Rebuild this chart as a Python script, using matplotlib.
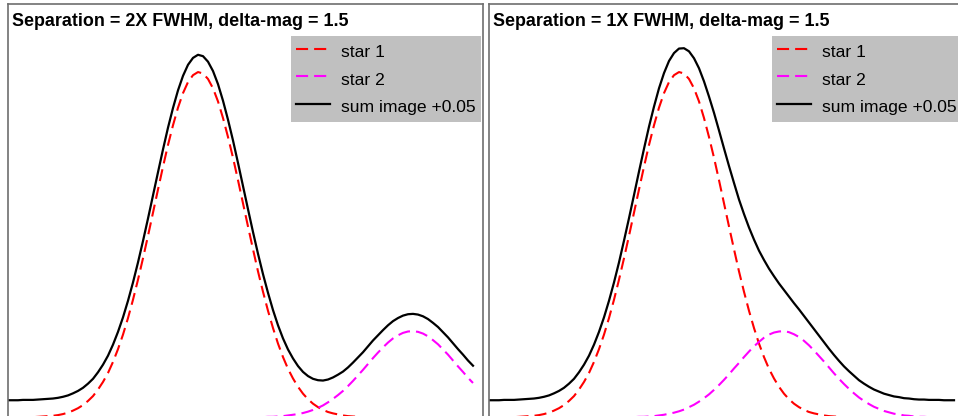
import matplotlib
matplotlib.use("Agg")
import matplotlib.pyplot as plt
import numpy as np

plt.rcParams['font.family'] = ['Liberation Sans', 'DejaVu Sans']

# position along the cut, half-unit steps (same grid for both panels)
pos = np.arange(94) * 0.5

# star 1: bright source, same in both panels
star1 = [0.000, 0.000, 0.000, 0.001, 0.001, 0.001, 0.002, 0.003, 0.004, 0.005,
         0.007, 0.010, 0.014, 0.020, 0.027, 0.036, 0.048, 0.062, 0.081, 0.103,
         0.129, 0.161, 0.198, 0.240, 0.288, 0.341, 0.399, 0.461, 0.526, 0.593,
         0.660, 0.726, 0.789, 0.846, 0.897, 0.939, 0.971, 0.991, 1.000, 0.996,
         0.980, 0.953, 0.915, 0.867, 0.812, 0.752, 0.687, 0.620, 0.553, 0.487,
         0.423, 0.364, 0.309, 0.259, 0.214, 0.175, 0.141, 0.113, 0.089, 0.069,
         0.053, 0.040, 0.030, 0.022, 0.016, 0.012, 0.009, 0.006, 0.004, 0.003,
         0.002, 0.001, 0.001, 0.001] + [0.000] * 20

# star 2 at 2x FWHM separation
star2_wide = [0.000] * 49 + [
    0.000, 0.001, 0.001, 0.002, 0.002, 0.003, 0.004, 0.006, 0.008, 0.010,
    0.013, 0.017, 0.022, 0.028, 0.035, 0.044, 0.054, 0.065, 0.077, 0.091,
    0.106, 0.122, 0.138, 0.155, 0.172, 0.188, 0.203, 0.217, 0.229, 0.238,
    0.245, 0.249, 0.250, 0.248, 0.243, 0.235, 0.224, 0.212, 0.197, 0.182,
    0.165, 0.148, 0.132, 0.115, 0.100]

# star 2 at 1x FWHM separation
star2_close = [0.000] * 25 + [
    0.000, 0.000, 0.001, 0.001, 0.001, 0.002, 0.002, 0.003, 0.004, 0.006,
    0.008, 0.011, 0.014, 0.018, 0.023, 0.030, 0.037, 0.046, 0.056, 0.067,
    0.080, 0.094, 0.109, 0.125, 0.142, 0.158, 0.175, 0.191, 0.206, 0.219,
    0.231, 0.240, 0.246, 0.249, 0.250, 0.247, 0.241, 0.233, 0.222, 0.209,
    0.194, 0.178, 0.162, 0.145, 0.128, 0.112, 0.097, 0.083, 0.070, 0.058,
    0.048, 0.039, 0.031, 0.025, 0.019, 0.015, 0.011, 0.009, 0.006, 0.005,
    0.003, 0.002, 0.002, 0.001, 0.001, 0.001, 0.000, 0.000, 0.000]

offset = 0.05
titles = ["Separation = 2X FWHM, delta-mag = 1.5",
          "Separation = 1X FWHM, delta-mag = 1.5"]

W, H = 958, 416
fig = plt.figure(figsize=(W / 100, H / 100), dpi=100)

panels = [(8, star2_wide), (489, star2_close)]
for (x0, s2), title in zip(panels, titles):
    ax = fig.add_axes([x0 / W, 1 - 418 / H, 475 / W, 414 / H])
    s1 = np.array(star1)
    s2 = np.array(s2)
    ax.plot(pos, s1, color='#ff0000', lw=1.5, dashes=(5.8, 2.9), label='star 1')
    ax.plot(pos, s2, color='#ff00ff', lw=1.5, dashes=(5.8, 2.9), label='star 2')
    ax.plot(pos, s1 + s2 + offset, color='black', lw=1.6,
            label='sum image +%.2f' % offset)
    ax.set_xlim(0, 47.5)
    ax.set_ylim(-0.0014, 1.197)
    ax.set_xticks([])
    ax.set_yticks([])
    for side in ['left', 'right', 'top']:
        ax.spines[side].set_color('#6e6e6e')
        ax.spines[side].set_linewidth(1.2)
    ax.spines['bottom'].set_visible(False)

    leg = ax.legend(loc='upper right', bbox_to_anchor=(0.9958, 0.9227),
                    borderaxespad=0, fontsize=12.6, frameon=True,
                    fancybox=False, facecolor='#c0c0c0', edgecolor='none',
                    framealpha=1, borderpad=0.28, labelspacing=0.34,
                    handleheight=1.5, handlelength=1.94, handletextpad=0.68)

    fig.text((x0 + 4) / W, 1 - 26 / H, title, fontsize=12.9,
             fontweight='bold', va='baseline', ha='left')

fig.savefig('out.png', dpi=100)
